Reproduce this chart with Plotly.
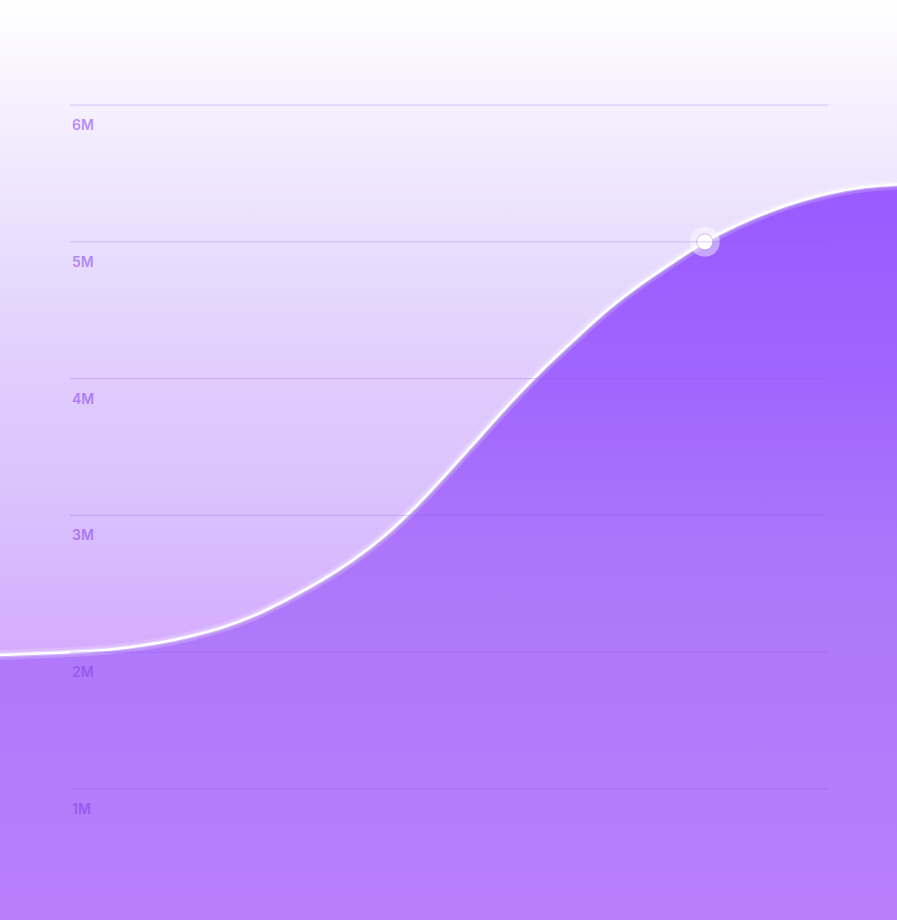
import plotly.graph_objects as go

# ---- data ----
periods = [i * 0.5 for i in range(29)]
revenue_m = [1.98, 1.988, 1.998, 2.012, 2.035, 2.07, 2.12, 2.185, 2.275, 2.39,
             2.52, 2.67, 2.85, 3.07, 3.32, 3.58, 3.84, 4.08, 4.30, 4.51,
             4.69, 4.85, 5.00, 5.12, 5.22, 5.30, 5.36, 5.40, 5.42]
highlight_period = 11
highlight_value = 5.00
tick_values = [1, 2, 3, 4, 5, 6]
tick_labels = ["1M", "2M", "3M", "4M", "5M", "6M"]

Y_MIN, Y_MAX = 0.042, 6.768
X_MIN, X_MAX = 0, 14

fig = go.Figure()

# background gradient panel
fig.add_trace(go.Scatter(
    x=[X_MIN, X_MAX, X_MAX, X_MIN, X_MIN],
    y=[Y_MIN, Y_MIN, Y_MAX, Y_MAX, Y_MIN],
    mode="lines", line=dict(width=0), fill="toself",
    fillgradient=dict(type="vertical", start=Y_MIN, stop=Y_MAX,
                      colorscale=[[0, "#cf9efe"], [0.288, "#d5abfd"], [0.44, "#d9c0fd"],
                                  [0.588, "#e0ccfd"], [0.707, "#e7dbfc"], [0.886, "#f5f0fe"],
                                  [1, "#ffffff"]]),
    hoverinfo="skip", showlegend=False))

# area under curve
fig.add_trace(go.Scatter(
    x=periods, y=revenue_m, mode="lines",
    line=dict(width=0, shape="spline", smoothing=1.0),
    fill="tozeroy",
    fillgradient=dict(type="vertical", start=0, stop=5.42,
                      colorscale=[[0, "#b97ffb"], [0.5, "#ad76fa"], [0.75, "#a064fe"], [1, "#9a5aff"]]),
    hoverinfo="skip", showlegend=False))

# glow around line
fig.add_trace(go.Scatter(
    x=periods, y=revenue_m, mode="lines",
    line=dict(width=10, color="rgba(255,255,255,0.18)", shape="spline", smoothing=1.0),
    hoverinfo="skip", showlegend=False))
fig.add_trace(go.Scatter(
    x=periods, y=revenue_m, mode="lines",
    line=dict(width=5, color="rgba(255,255,255,0.3)", shape="spline", smoothing=1.0),
    hoverinfo="skip", showlegend=False))
fig.add_trace(go.Scatter(
    x=periods, y=revenue_m, mode="lines",
    line=dict(width=2.5, color="#ffffff", shape="spline", smoothing=1.0),
    hoverinfo="skip", showlegend=False))

# highlight marker
fig.add_trace(go.Scatter(
    x=[highlight_period], y=[highlight_value], mode="markers",
    marker=dict(size=30, color="rgba(255,255,255,0.45)", line=dict(width=0)),
    hoverinfo="skip", showlegend=False))
fig.add_trace(go.Scatter(
    x=[highlight_period], y=[highlight_value], mode="markers",
    marker=dict(size=16, color="#ffffff", line=dict(width=0.6, color="rgba(140,80,230,0.6)")),
    hoverinfo="skip", showlegend=False))

# gridlines + labels
for v, lab in zip(tick_values, tick_labels):
    fig.add_shape(type="line", xref="paper", yref="y", x0=70 / 897, x1=828 / 897, y0=v, y1=v,
                  line=dict(color="rgba(145,85,235,0.3)", width=1), layer="above")
    fig.add_annotation(xref="paper", yref="y", x=70 / 897, y=v, text=lab, showarrow=False,
                       xanchor="left", yanchor="top", yshift=-9,
                       font=dict(family="Inter, sans-serif", size=14, color="rgba(130,60,230,0.55)",
                                 weight=600))

fig.update_layout(
    width=897, height=920,
    margin=dict(l=0, r=0, t=0, b=0),
    paper_bgcolor="#ffffff", plot_bgcolor="#ffffff",
    showlegend=False,
    xaxis=dict(range=[X_MIN, X_MAX], visible=False, fixedrange=True),
    yaxis=dict(range=[Y_MIN, Y_MAX], visible=False, fixedrange=True),
)

fig.write_html("out.html", config={"displayModeBar": False},
               post_script="document.body.style.margin='0';document.body.style.padding='0';")
